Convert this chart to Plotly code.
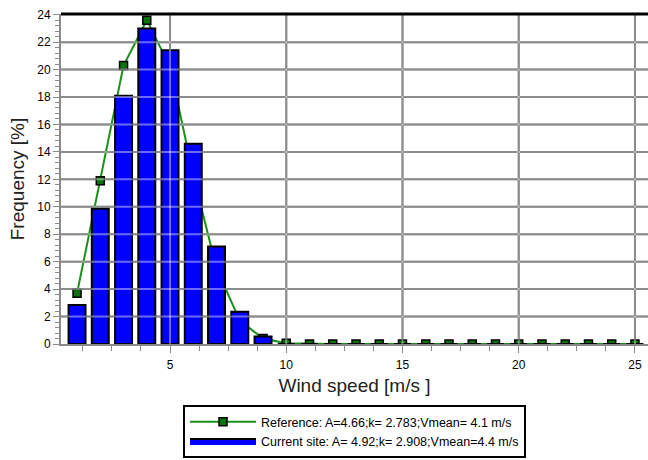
import plotly.graph_objects as go

# Wind speed bins [m/s]
speed_bins = list(range(1, 26))

# Frequency [%] per bin
reference_freq = [3.7, 11.9, 20.3, 23.6, 20.2, 12.3, 5.5, 1.7, 0.4, 0.05,
                  0, 0, 0, 0, 0, 0, 0, 0, 0, 0, 0, 0, 0, 0, 0]
current_freq = [2.85, 9.85, 18.1, 23.0, 21.4, 14.6, 7.1, 2.35, 0.55, 0,
                0, 0, 0, 0, 0, 0, 0, 0, 0, 0, 0, 0, 0, 0, 0]

reference_label = "Reference: A=4.66;k= 2.783;Vmean= 4.1 m/s"
current_label = "Current site: A= 4.92;k= 2.908;Vmean=4.4 m/s"

x_major_ticks = [5, 10, 15, 20, 25]
y_major_ticks = list(range(0, 26, 2))

X_RANGE = [0.31, 25.56]
Y_RANGE = [0, 24.05]

FONT = "Liberation Sans, Arial, sans-serif"
GRID = "#3a3a3a"
GRID_VEIL = "rgba(255,255,255,0.42)"
AXIS = "#8a8a8a"
BAR_BLUE = "#0000ff"

fig = go.Figure()

# Reference Weibull frequencies: green line with square markers (drawn beneath the bars)
fig.add_trace(go.Scatter(
    x=speed_bins, y=reference_freq, name=reference_label,
    mode="lines+markers",
    line=dict(color="#1b8f1b", width=2),
    marker=dict(symbol="square", size=8, color="#0b720b",
                line=dict(color="black", width=1.5)),
    xaxis="x", yaxis="y",
))

# Measured site frequencies: blue bars on an overlaid axis so they sit above the line
fig.add_trace(go.Bar(
    x=speed_bins, y=current_freq, name=current_label,
    width=0.73, showlegend=False,
    marker=dict(color=BAR_BLUE, line=dict(color="black", width=2)),
    xaxis="x", yaxis="y2",
))

# Legend entry for the bars, drawn as a wide filled box
fig.add_trace(go.Scatter(
    x=[None], y=[None], name=current_label,
    mode="lines", fill="toself", fillcolor=BAR_BLUE,
    line=dict(color="black", width=2),
    xaxis="x", yaxis="y2",
))

# Gridlines: grey below the traces, plus a light veil on top so they show through the bars
def grid_line(x0, x1, y0, y1):
    fig.add_shape(type="line", xref="x", yref="y", x0=x0, x1=x1, y0=y0, y1=y1,
                  layer="below", line=dict(color=GRID, width=2))
    fig.add_shape(type="line", xref="x", yref="y", x0=x0, x1=x1, y0=y0, y1=y1,
                  layer="above", line=dict(color=GRID_VEIL, width=2))

for gx in x_major_ticks:
    grid_line(gx, gx, Y_RANGE[0], Y_RANGE[1])
for gy in y_major_ticks[1:-1]:
    grid_line(X_RANGE[0], X_RANGE[1], gy, gy)

# Heavy top border of the plot frame
fig.add_shape(type="line", xref="paper", yref="paper", x0=0, x1=1, y0=1, y1=1,
              layer="above", line=dict(color="black", width=3))

fig.update_layout(
    width=648, height=460,
    margin=dict(l=61, r=0, t=14, b=116, autoexpand=False),
    paper_bgcolor="white", plot_bgcolor="white",
    font=dict(family=FONT, color="black", size=12),
    barmode="overlay",
    xaxis=dict(
        range=X_RANGE, tickvals=x_major_ticks,
        showgrid=False,
        showline=True, linecolor=AXIS, linewidth=2,
        ticks="outside", ticklen=7, tickcolor=AXIS, tickwidth=1,
        minor=dict(dtick=1.25, tick0=0, ticks="outside", ticklen=5,
                   tickcolor=AXIS, showgrid=False),
        tickfont=dict(size=12, color="black"),
        ticklabelstandoff=2,
        zeroline=False,
        title=dict(text="Wind speed [m/s ]", font=dict(size=19, color="#222"),
                   standoff=7),
    ),
    yaxis=dict(
        range=Y_RANGE, tickvals=y_major_ticks,
        showgrid=False,
        showline=True, linecolor=AXIS, linewidth=2,
        ticks="outside", ticklen=6, tickcolor=AXIS, tickwidth=1,
        minor=dict(dtick=0.4, tick0=0, ticks="outside", ticklen=4,
                   tickcolor=AXIS, showgrid=False),
        tickfont=dict(size=12, color="black"),
        zeroline=False,
        title=dict(text="Frequency [%]", font=dict(size=19, color="#222"),
                   standoff=8),
    ),
    yaxis2=dict(
        range=Y_RANGE, overlaying="y", side="left",
        showgrid=False, showline=False, showticklabels=False,
        ticks="", zeroline=False,
    ),
    legend=dict(
        x=0.5, xanchor="center", y=-0.3455, yanchor="bottom",
        orientation="v",
        bordercolor="black", borderwidth=2, bgcolor="white",
        font=dict(size=12.5, color="black", family=FONT),
        itemwidth=66, tracegroupgap=0,
        entrywidth=335, entrywidthmode="pixels",
    ),
    showlegend=True,
)

fig.write_html("out.html")
